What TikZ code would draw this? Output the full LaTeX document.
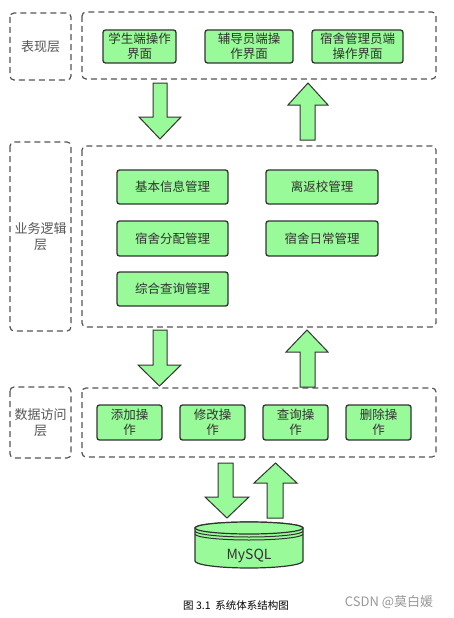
\documentclass[tikz,border=0pt]{standalone}
\usepackage{fontspec}
\setmainfont{Noto Sans CJK SC}
\newfontfamily\cjk{Noto Sans CJK SC}
\definecolor{boxgreen}{HTML}{98FA98}
\definecolor{edgegray}{HTML}{333333}
\definecolor{dashgray}{HTML}{555555}
\definecolor{txtgray}{HTML}{333333}
\tikzset{
  layerbox/.style={draw=dashgray, line width=1.2pt, dash pattern=on 6pt off 4pt, rounded corners=4pt},
  layerlabel/.style={text=dashgray, font=\cjk\fontsize{13}{16}\selectfont, align=center},
  funcbox/.style={draw=edgegray, fill=boxgreen, line width=1.3pt, rounded corners=2.5pt, text=txtgray,
    font=\cjk\fontsize{12.5}{15}\selectfont, align=center, inner sep=0pt},
  blockarrow/.style={draw=edgegray, fill=boxgreen, line width=1pt, line join=miter},
}
\newcommand{\mybox}[6]{% name, x1, y1, x2, y2, text
  \node[funcbox, minimum width={#4-#2}, minimum height={#5-#3}] (#1) at ({(#2+#4)/2},{(#3+#5)/2}) {#6};}
\newcommand{\downarr}[7]{% shaft x1 x2, top, headbase, head x1 x2, tip y
  \draw[blockarrow] (#1,#3) -- (#2,#3) -- (#2,#4) -- (#6,#4) -- ({(#5+#6)/2},#7) -- (#5,#4) -- (#1,#4) -- cycle;}
\newcommand{\uparr}[7]{% shaft x1 x2, bottom, headbase, head x1 x2, tip y
  \draw[blockarrow] (#1,#3) -- (#2,#3) -- (#2,#4) -- (#6,#4) -- ({(#5+#6)/2},#7) -- (#5,#4) -- (#1,#4) -- cycle;}
\begin{document}
\begin{tikzpicture}[x=1pt, y=-1pt]
\useasboundingbox (0,0) rectangle (454,618);
\fill[white] (0,0) rectangle (454,618);

% layer label boxes
\draw[layerbox] (10,13) rectangle (71,80);
\node[layerlabel] (l1) at (40.5,46.5) {表现层};
\draw[layerbox] (10,142) rectangle (71,331);
\node[layerlabel] (l2) at (40.5,236.5) {业务逻辑\\层};
\draw[layerbox] (10,387) rectangle (71,458);
\node[layerlabel] (l3) at (40.5,422.5) {数据访问\\层};

% main layer boxes
\draw[layerbox] (82,12) rectangle (436,79);
\draw[layerbox] (82,146) rectangle (436,327);
\draw[layerbox] (82,388) rectangle (436,457);

% presentation layer
\mybox{p1}{103}{30}{176}{63}{学生端操作\\界面}
\mybox{p2}{205}{30}{293}{63}{辅导员端操\\作界面}
\mybox{p3}{312}{30}{403}{63}{宿舍管理员端\\操作界面}

% business layer
\mybox{b1}{117}{170}{228}{204}{基本信息管理}
\mybox{b2}{266}{170}{378}{204}{离返校管理}
\mybox{b3}{117}{221}{228}{256}{宿舍分配管理}
\mybox{b4}{266}{221}{378}{256}{宿舍日常管理}
\mybox{b5}{117}{272}{228}{306}{综合查询管理}

% data access layer
\mybox{d1}{97}{405}{162}{440}{添加操\\作}
\mybox{d2}{180}{405}{245}{440}{修改操\\作}
\mybox{d3}{263}{405}{328}{440}{查询操\\作}
\mybox{d4}{346}{405}{411}{440}{删除操\\作}

% block arrows
\downarr{153}{167}{83}{117}{139}{181}{139}
\uparr{300}{315}{140}{105}{288}{328}{83}
\downarr{153}{167}{330}{365}{138}{181}{386}
\uparr{300}{315}{387}{352}{286}{328}{330}
\downarr{218}{233}{463}{497}{205}{249}{518}
\uparr{267}{283}{518}{483}{254}{297}{463}

% database cylinder (y axis points down: angles 0..180 via 90 = lower half)
\draw[blockarrow, line width=1.2pt] (195,528) -- (195,561) arc[start angle=180, end angle=0, x radius=54, y radius=7] -- (303,528) arc[start angle=0, end angle=-180, x radius=54, y radius=6] -- cycle;
\draw[blockarrow, line width=1.2pt] (249,528) ellipse [x radius=54, y radius=6];
\draw[edgegray, line width=1pt] (195,531) arc[start angle=180, end angle=0, x radius=54, y radius=6];
\draw[edgegray, line width=1pt] (195,534) arc[start angle=180, end angle=0, x radius=54, y radius=6];
\node[text=txtgray, font=\cjk\fontsize{14}{16}\selectfont] (db) at (249,556) {MySQL};

% caption and watermark
\node[text=black, font=\cjk\fontsize{10.5}{12}\selectfont] (cap) at (236,605) {图 3.1\ \ 系统体系结构图};
\node[text=gray!80, font=\cjk\fontsize{13}{15}\selectfont] (wm) at (389,602) {CSDN @莫白媛};
\end{tikzpicture}
\end{document}
